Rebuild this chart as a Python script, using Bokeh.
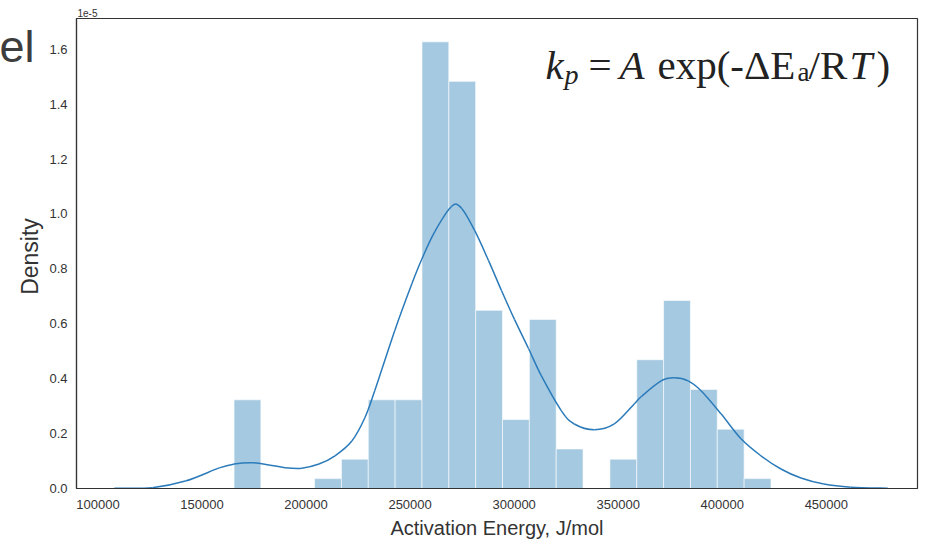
import math
from bokeh.plotting import figure
from bokeh.layouts import row
from bokeh.models import Range1d, FixedTicker, CustomJSTickFormatter, Label
from bokeh.core.properties import value
from bokeh.embed import file_html
from bokeh.resources import INLINE

# ---- data ----
bin_edges = [165400, 178300, 191200, 204100, 217000, 229900, 242800, 255700,
             268600, 281500, 294400, 307300, 320200, 333100, 346000, 358900,
             371800, 384700, 397600, 410500, 423400]
# density in units of 1e-5
bin_density = [0.323, 0.0, 0.0, 0.036, 0.107, 0.323, 0.323, 1.627, 1.483, 0.649,
               0.251, 0.616, 0.144, 0.0, 0.107, 0.469, 0.685, 0.361, 0.216, 0.036]

kde_x = [107900, 126100, 142000, 158300, 165400, 174100, 182200, 189900, 198000,
         206200, 213900, 222000, 228200, 233000, 242600, 250800, 255600, 261800,
         270000, 274700, 281000, 287700, 293900, 300200, 306900, 313100, 322700,
         328900, 338500, 348100, 357700, 361100, 370600, 376900, 383600, 389800,
         399400, 409000, 418600, 428200, 437800, 448800, 461700, 479500]
kde_y = [0.001, 0.003, 0.027, 0.075, 0.089, 0.094, 0.086, 0.076, 0.074,
         0.089, 0.119, 0.173, 0.257, 0.356, 0.575, 0.745, 0.835, 0.935,
         1.028, 1.021, 0.940, 0.830, 0.721, 0.615, 0.510, 0.410, 0.283,
         0.235, 0.214, 0.235, 0.308, 0.335, 0.392, 0.403, 0.392, 0.356,
         0.272, 0.181, 0.119, 0.071, 0.038, 0.016, 0.005, 0.001]

x_ticks = [100000, 150000, 200000, 250000, 300000, 350000, 400000, 450000]
y_ticks = [0.0, 0.2, 0.4, 0.6, 0.8, 1.0, 1.2, 1.4, 1.6]

SANS = "'Liberation Sans', Arial, sans-serif"
SERIF = "'Liberation Serif', 'Times New Roman', serif"
INK = "#333333"

STRIP_W = 46
H = 546

# ---- left strip: slide fragment "el" and the y-axis title ----
strip = figure(frame_width=STRIP_W, frame_height=H, title=None,
               output_backend="svg", toolbar_location=None,
               x_range=Range1d(0, STRIP_W), y_range=Range1d(H, 0),
               x_axis_location=None, y_axis_location=None,
               min_border=0, min_border_left=0, min_border_right=0,
               min_border_top=0, min_border_bottom=0)
strip.outline_line_color = None
strip.xgrid.visible = False
strip.ygrid.visible = False
strip.background_fill_color = "white"
strip.border_fill_color = "white"
strip.text(x=[-1], y=[28], text=["el"], text_font=value("Liberation Sans"),
           text_font_size="45px", text_color="#3d3d3d",
           text_align="left", text_baseline="alphabetic")
strip.text(x=[29], y=[238], text=["Density"], text_font=value("Liberation Sans"),
           text_font_size="23px", text_color=INK, angle=math.pi / 2,
           text_align="center", text_baseline="middle")

# ---- main chart ----
p = figure(width=935 - STRIP_W, height=H, output_backend="svg", toolbar_location=None,
           x_range=Range1d(89700, 493800), y_range=Range1d(0, 1.712),
           min_border_left=74 - STRIP_W, min_border_right=18, min_border_top=18,
           min_border_bottom=58)
p.background_fill_color = "white"
p.border_fill_color = "white"
p.outline_line_color = INK
p.outline_line_width = 1.2
p.xgrid.visible = False
p.ygrid.visible = False

p.title.text = "1e-5"
p.title.align = "left"
p.title.offset = 1
p.title.standoff = 4
p.title.text_font = SANS
p.title.text_font_size = "10px"
p.title.text_font_style = "normal"
p.title.text_color = INK

lefts, rights, tops = [], [], []
for i, d in enumerate(bin_density):
    if d > 0:
        lefts.append(bin_edges[i])
        rights.append(bin_edges[i + 1])
        tops.append(d)
p.quad(left=lefts, right=rights, bottom=0, top=tops,
       fill_color="#1f77b4", fill_alpha=0.4,
       line_color="white", line_alpha=0.6, line_width=1)

# smooth curve through the read KDE points (Catmull-Rom -> cubic Bezier segments)
n = len(kde_x)
bx0, by0, bx1, by1, c0x, c0y, c1x, c1y = ([] for _ in range(8))
for i in range(n - 1):
    i0 = max(i - 1, 0)
    i3 = min(i + 2, n - 1)
    bx0.append(kde_x[i]); by0.append(kde_y[i])
    bx1.append(kde_x[i + 1]); by1.append(kde_y[i + 1])
    c0x.append(kde_x[i] + (kde_x[i + 1] - kde_x[i0]) / 6.0)
    c0y.append(kde_y[i] + (kde_y[i + 1] - kde_y[i0]) / 6.0)
    c1x.append(kde_x[i + 1] - (kde_x[i3] - kde_x[i]) / 6.0)
    c1y.append(kde_y[i + 1] - (kde_y[i3] - kde_y[i]) / 6.0)
p.bezier(x0=bx0, y0=by0, x1=bx1, y1=by1, cx0=c0x, cy0=c0y, cx1=c1x, cy1=c1y,
         line_color="#2b7bba", line_width=1.5)

for ax in (p.xaxis[0], p.yaxis[0]):
    ax.axis_line_color = INK
    ax.axis_line_width = 1.2
    ax.major_tick_line_color = None
    ax.minor_tick_line_color = None
    ax.major_tick_out = 0
    ax.major_tick_in = 0
    ax.major_label_text_font = SANS
    ax.major_label_text_font_size = "13px"
    ax.major_label_text_color = INK
    ax.axis_label_text_font_style = "normal"
    ax.axis_label_text_color = INK

p.xaxis.ticker = FixedTicker(ticks=x_ticks)
p.xaxis.formatter = CustomJSTickFormatter(code="return String(Math.round(tick));")
p.xaxis.major_label_standoff = 11
p.xaxis.axis_label = "Activation Energy, J/mol"
p.xaxis.axis_label_text_font = SANS
p.xaxis.axis_label_text_font_size = "20px"
p.xaxis.axis_label_standoff = 5

p.yaxis.ticker = FixedTicker(ticks=y_ticks)
p.yaxis.formatter = CustomJSTickFormatter(code="return tick.toFixed(1);")
p.yaxis.major_label_standoff = 9

# formula (positions relative to the plot frame)
def put(text, cx, cy, size, style="normal", color="#222222"):
    p.add_layout(Label(x=cx - 74, y=487.5 - cy, x_units="screen", y_units="screen",
                       text=text, text_font=SERIF, text_font_size=size,
                       text_font_style=style, text_color=color,
                       text_align="left", text_baseline="alphabetic"))

base = 64
put("k", 543, base, "41px", "italic")
put("p", 562, base + 9, "28px", "italic")
put("=", 586, base, "41px")
put("A", 617, base, "41px", "italic")
put("exp(-\u0394E", 655, base, "41px")
put("a", 795, base + 7, "27px")
put("/R", 806, base, "41px")
put("T", 847, base, "41px", "italic")
put(")", 874, base, "41px")

layout = row(strip, p, spacing=0)
open("out.html", "w").write(file_html(layout, INLINE))
